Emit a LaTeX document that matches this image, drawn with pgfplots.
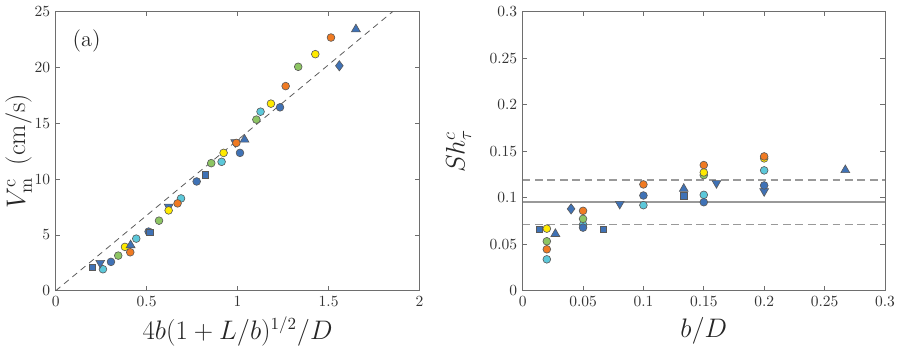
\documentclass[border=0pt]{standalone}
\usepackage{pgfplots}
\pgfplotsset{compat=1.18}

\definecolor{cblue}{RGB}{63,114,182}
\definecolor{corange}{RGB}{240,122,34}
\definecolor{cyellow}{RGB}{255,234,0}
\definecolor{cgreen}{RGB}{141,197,99}
\definecolor{ccyan}{RGB}{92,200,218}
\definecolor{axgray}{RGB}{110,110,110}

\pgfplotsset{
  panel/.style={
    scale only axis,
    anchor=south west,
    width=234.8pt, height=180.1pt,
    axis line style={axgray, line width=0.5pt},
    tick style={axgray, line width=0.5pt},
    tick align=inside,
    tick pos=both,
    major tick length=3pt,
    ticklabel style={font=\normalsize, black!80},
    label style={font=\fontsize{16}{19}\selectfont, black!85},
    clip=false,
  },
  pt/.style={only marks, mark size=2.5pt, mark options={draw=black!65, line width=0.4pt, fill=#1}},
  sq/.style={only marks, mark=square*, mark size=2pt, mark options={draw=black!65, line width=0.4pt, fill=cblue}},
  tu/.style={only marks, mark=triangle*, mark size=3.3pt, mark options={draw=black!65, line width=0.4pt, fill=cblue}},
  td/.style={only marks, mark=triangle*, mark size=3.3pt, mark options={rotate=180, draw=black!65, line width=0.4pt, fill=cblue}},
  dm/.style={only marks, mark=diamond*, mark size=3.3pt, mark options={draw=black!65, line width=0.4pt, fill=cblue}},
}

\begin{document}
\begin{tikzpicture}
\useasboundingbox (0,0) rectangle (578.7pt,225.2pt);

% (a)
\begin{axis}[panel,
    at={(35.9pt,37.6pt)},
    xmin=0, xmax=2, ymin=0, ymax=25,
    xtick={0,0.5,1,1.5,2}, ytick={0,5,10,15,20,25},
    xlabel={$4b(1+L/b)^{1/2}/D$},
    ylabel={$V_{\mathrm{m}}^{\mathrm{c}}$\ \,(cm/s)},
    ylabel style={font=\fontsize{17}{20}\selectfont, yshift=-5pt},
  ]
  \addplot[black!65, dash pattern=on 4pt off 3pt, line width=0.5pt] coordinates {(0,0) (1.852,25)};
  \addplot[pt=ccyan] coordinates {(1.126,16.04) (0.912,11.55) (0.689,8.27) (0.443,4.67) (0.260,1.93)};
  \addplot[pt=cgreen] coordinates {(1.333,20.06) (1.103,15.33) (0.855,11.43) (0.568,6.28) (0.344,3.15)};
  \addplot[td] coordinates {(0.987,13.3) (0.621,7.53) (0.245,2.50)};
  \addplot[pt=cyellow] coordinates {(1.427,21.19) (1.183,16.76) (0.923,12.35) (0.621,7.20) (0.381,3.93)};
  \addplot[pt=corange] coordinates {(1.513,22.68) (1.264,18.33) (0.993,13.24) (0.670,7.83) (0.410,3.45)};
  \addplot[pt=cblue] coordinates {(1.233,16.43) (1.013,12.35) (0.775,9.79) (0.511,5.30) (0.304,2.59)};
  \addplot[sq] coordinates {(0.824,10.39) (0.518,5.21) (0.203,2.08)};
  \addplot[tu] coordinates {(1.650,23.42) (1.038,13.54) (0.412,4.08)};
  \addplot[dm] coordinates {(1.559,20.15)};
  \node[font=\Large, black!85] at (axis cs:0.17,22.4) {(a)};
\end{axis}

% (b)
\begin{axis}[panel,
    at={(337.2pt,37.6pt)},
    width=233.7pt,
    xmin=0, xmax=0.3, ymin=0, ymax=0.3,
    xtick={0,0.05,0.1,0.15,0.2,0.25,0.3},
    ytick={0,0.05,0.1,0.15,0.2,0.25,0.3},
    xticklabels={0,0.05,0.1,0.15,0.2,0.25,0.3},
    yticklabels={0,0.05,0.1,0.15,0.2,0.25,0.3},
    xlabel={$b/D$},
    ylabel={$Sh^c_\tau$},
    ylabel style={font=\fontsize{18}{21}\selectfont, yshift=5pt},
  ]
  \addplot[black!40, line width=1pt] coordinates {(0,0.0952) (0.3,0.0952)};
  \addplot[black!40, dash pattern=on 5pt off 3pt, line width=1pt] coordinates {(0,0.1193) (0.3,0.1193)};
  \addplot[black!40, dash pattern=on 5pt off 3pt, line width=1pt] coordinates {(0,0.0711) (0.3,0.0711)};
  \addplot[pt=ccyan] coordinates {(0.02,0.0338) (0.05,0.071) (0.1,0.0920) (0.15,0.1031) (0.2,0.1294)};
  \addplot[pt=cgreen] coordinates {(0.02,0.0532) (0.05,0.0773) (0.15,0.1243)};
  \addplot[pt=cyellow] coordinates {(0.02,0.0668) (0.15,0.1272) (0.2,0.1423)};
  \addplot[pt=corange] coordinates {(0.02,0.0446) (0.05,0.0859) (0.1,0.1143) (0.15,0.1351) (0.2,0.1444)};
  \addplot[td] coordinates {(0.0804,0.0934) (0.1605,0.1157) (0.2,0.107)};
  \addplot[pt=cblue] coordinates {(0.05,0.0679) (0.1,0.1024) (0.15,0.0952) (0.2,0.1132)};
  \addplot[sq] coordinates {(0.0135,0.0661) (0.0671,0.0661) (0.1334,0.1020)};
  \addplot[tu] coordinates {(0.0271,0.0611) (0.1334,0.1096) (0.2672,0.1297)};
  \addplot[dm] coordinates {(0.0401,0.0880)};
\end{axis}
\end{tikzpicture}
\end{document}
